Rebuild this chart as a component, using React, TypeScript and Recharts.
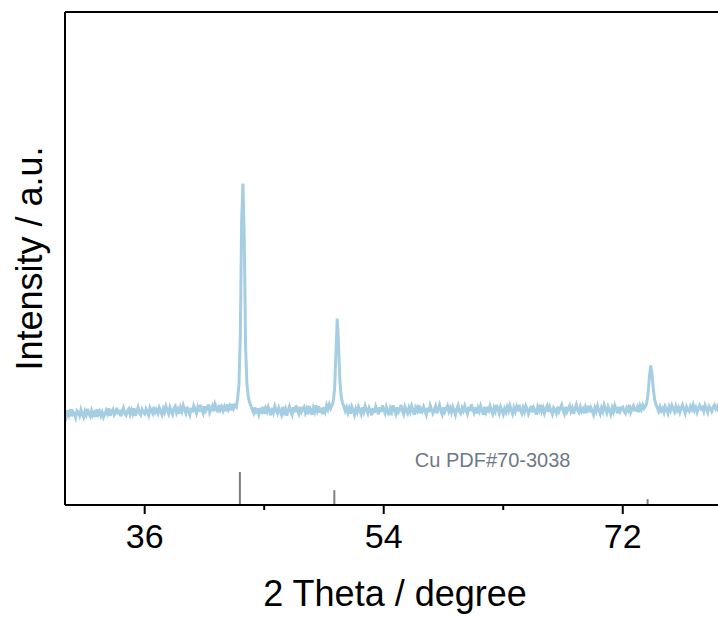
import { LineChart, Line, XAxis, YAxis, ReferenceLine, ReferenceDot } from 'recharts'

// scan: 30.0° .. 80.0°, 0.1° step, one row per degree
const startAngle = 30
const stepAngle = 0.1

const intensity = [
  186, 179, 192, 183, 194, 180, 189, 185, 177, 191, // 30
  188, 181, 193, 184, 178, 190, 183, 195, 185, 180, // 31
  191, 182, 187, 179, 194, 184, 190, 181, 188, 178, // 32
  184, 192, 185, 196, 181, 190, 194, 183, 188, 197, // 33
  184, 193, 180, 189, 197, 186, 182, 191, 195, 184, // 34
  193, 185, 196, 181, 190, 198, 187, 183, 194, 189, // 35
  185, 195, 189, 182, 197, 191, 186, 199, 188, 193, // 36
  186, 197, 190, 183, 195, 188, 200, 192, 185, 198, // 37
  191, 184, 196, 200, 187, 194, 185, 198, 190, 202, // 38
  193, 186, 199, 190, 183, 197, 188, 201, 194, 186, // 39
  198, 189, 203, 193, 186, 200, 191, 196, 204, 188, // 40
  195, 201, 190, 204, 196, 188, 203, 193, 199, 191, // 41
  199, 190, 204, 194, 201, 192, 205, 196, 202, 199, // 42
  216, 245, 340, 575, 652, 540, 320, 245, 220, 208, // 43
  201, 194, 187, 198, 185, 196, 184, 193, 189, 199, // 44
  185, 196, 189, 199, 190, 182, 197, 188, 200, 192, // 45
  186, 197, 190, 183, 199, 188, 195, 181, 192, 200, // 46
  190, 183, 198, 188, 202, 192, 185, 199, 189, 195, // 47
  199, 187, 195, 184, 201, 192, 183, 197, 189, 202, // 48
  191, 200, 187, 197, 184, 199, 190, 202, 194, 204, // 49
  196, 202, 210, 235, 305, 378, 325, 250, 220, 207, // 50
  200, 191, 198, 187, 196, 185, 199, 192, 183, 195, // 51
  188, 199, 191, 184, 198, 189, 201, 193, 186, 197, // 52
  191, 182, 196, 187, 200, 193, 184, 198, 189, 202, // 53
  193, 186, 199, 191, 182, 196, 189, 202, 193, 185, // 54
  198, 188, 193, 203, 191, 184, 199, 192, 186, 197, // 55
  189, 201, 193, 183, 197, 191, 203, 186, 195, 190, // 56
  199, 191, 183, 197, 188, 202, 194, 186, 192, 200, // 57
  186, 195, 203, 191, 184, 198, 189, 195, 201, 190, // 58
  197, 188, 199, 192, 183, 195, 202, 190, 186, 197, // 59
  191, 201, 192, 185, 199, 190, 204, 194, 187, 198, // 60
  186, 197, 190, 201, 193, 183, 199, 188, 195, 191, // 61
  201, 192, 185, 197, 190, 203, 194, 186, 199, 192, // 62
  184, 195, 188, 199, 191, 202, 193, 185, 197, 189, // 63
  199, 190, 203, 193, 186, 197, 189, 201, 195, 185, // 64
  192, 201, 188, 197, 191, 183, 199, 192, 203, 190, // 65
  197, 186, 195, 201, 189, 199, 191, 184, 197, 193, // 66
  186, 199, 190, 197, 203, 192, 185, 199, 189, 195, // 67
  201, 190, 197, 185, 195, 203, 192, 188, 199, 190, // 68
  195, 186, 199, 192, 201, 188, 197, 190, 183, 197, // 69
  190, 201, 192, 185, 197, 190, 203, 195, 187, 199, // 70
  192, 184, 197, 189, 202, 195, 186, 199, 190, 197, // 71
  199, 190, 186, 197, 192, 203, 188, 195, 201, 192, // 72
  192, 199, 188, 201, 194, 203, 196, 200, 206, 225, // 73
  258, 283, 266, 235, 214, 204, 197, 190, 199, 191, // 74
  196, 188, 200, 194, 186, 199, 192, 202, 195, 189, // 75
  200, 192, 198, 188, 196, 203, 194, 186, 199, 193, // 76
  190, 200, 194, 203, 192, 198, 188, 196, 202, 195, // 77
  198, 190, 202, 195, 188, 200, 196, 190, 198, 203, // 78
  195, 200, 192, 198, 203, 195, 190, 200, 196, 192, // 79
  197, // 80
]

// reference pattern Cu PDF#70-3038
const refAngles = [43.17, 50.28, 73.87]
const refHeights = [67, 30, 12]

const majorTicks = [36, 54, 72]
const allTicks = [36, 45, 54, 63, 72]

const data = intensity.map((v, i) => ({
  twoTheta: +(startAngle + i * stepAngle).toFixed(1),
  intensity: v,
}))

const FONT = 'Arial, "Liberation Sans", sans-serif'

function XTick({ x, y, payload }: any) {
  const major = majorTicks.includes(payload.value)
  return (
    <g>
      <line x1={x} x2={x} y1={y} y2={y + (major ? 9 : 5)} stroke="#000" strokeWidth={2} />
      {major && (
        <text x={x} y={y + 43} textAnchor="middle" fontSize={34} fontFamily={FONT} fill="#000">
          {payload.value}
        </text>
      )}
    </g>
  )
}

function YTitle({ viewBox }: any) {
  const cx = 42
  const cy = viewBox.y + viewBox.height / 2
  return (
    <text
      x={cx}
      y={cy}
      transform={`rotate(-90, ${cx}, ${cy})`}
      textAnchor="middle"
      fontSize={36}
      fontFamily={FONT}
      fill="#000"
    >
      Intensity / a.u.
    </text>
  )
}

function XTitle({ viewBox }: any) {
  return (
    <text x={395} y={viewBox.y + 101} textAnchor="middle" fontSize={36} fontFamily={FONT} fill="#000">
      2 Theta / degree
    </text>
  )
}

export default function App() {
  return (
    <div style={{ position: 'absolute', left: 0, top: 0, width: 718, height: 617, overflow: 'hidden', background: '#fff' }}>
      <LineChart width={734} height={617} data={data} margin={{ top: 12, right: 5, bottom: 0, left: 0 }}>
        <XAxis
          dataKey="twoTheta"
          type="number"
          domain={[30, 80]}
          ticks={allTicks}
          interval={0}
          tick={<XTick />}
          tickLine={false}
          tickSize={0}
          tickMargin={0}
          height={112}
          axisLine={{ stroke: '#000', strokeWidth: 2 }}
          label={(props: any) => <XTitle {...props} />}
        />
        <YAxis
          type="number"
          domain={[0, 1000]}
          width={65}
          tick={false}
          tickLine={false}
          axisLine={{ stroke: '#000', strokeWidth: 2 }}
          label={(props: any) => <YTitle {...props} />}
        />
        <ReferenceLine y={1000} stroke="#000" strokeWidth={2} />
        {refAngles.map((a, i) => (
          <ReferenceLine
            key={a}
            segment={[{ x: a, y: 0 }, { x: a, y: refHeights[i] }]}
            stroke="#7f7f7f"
            strokeWidth={2}
          />
        ))}
        <ReferenceDot
          x={62.2}
          y={92}
          r={1}
          fill="none"
          stroke="none"
          label={{ value: 'Cu PDF#70-3038', position: 'center', fill: '#6e7985', fontSize: 20, fontFamily: FONT }}
        />
        <Line
          type="linear"
          dataKey="intensity"
          stroke="#a6cee3"
          strokeWidth={3}
          dot={false}
          isAnimationActive={false}
        />
      </LineChart>
    </div>
  )
}
